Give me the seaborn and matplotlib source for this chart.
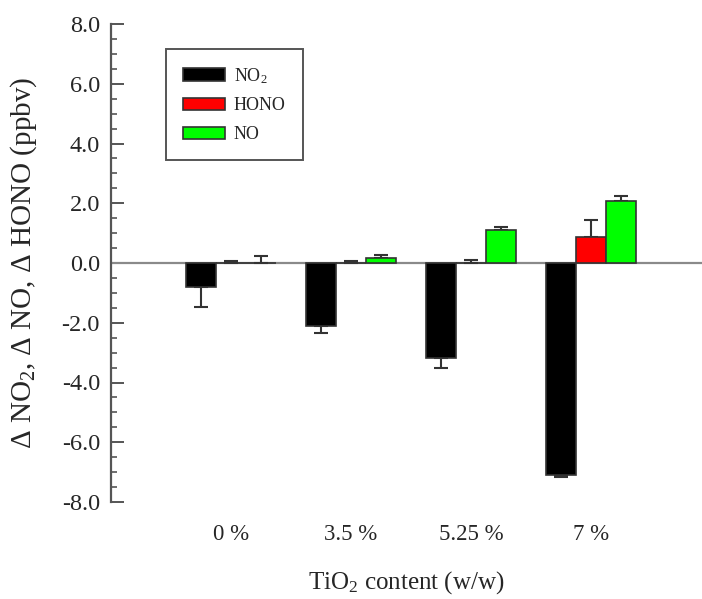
import seaborn as sns
import matplotlib
matplotlib.use("Agg")
import matplotlib.pyplot as plt
from matplotlib.ticker import MultipleLocator, FormatStrFormatter
import pandas as pd
import numpy as np

# Data
contents = ['0 %', '3.5 %', '5.25 %', '7 %']
species = ['NO$_2$', 'HONO', 'NO']
no2 = [-0.80, -2.10, -3.17, -7.10]
hono = [0.0, 0.0, 0.0, 0.87]
no = [0.0, 0.17, 1.10, 2.07]
no2_err = [0.67, 0.23, 0.33, 0.05]
hono_err = [0.07, 0.07, 0.10, 0.56]
no_err = [0.23, 0.10, 0.10, 0.16]
colors = ['#000000', '#ff0000', '#00ff00']

df = pd.DataFrame({
    'content': contents * 3,
    'species': [s for s in species for _ in contents],
    'value': no2 + hono + no,
})
errs = [no2_err, hono_err, no_err]

sns.set_style('ticks')
plt.rcParams['font.family'] = ['Liberation Serif', 'DejaVu Serif']
plt.rcParams['mathtext.fontset'] = 'custom'
plt.rcParams['mathtext.rm'] = 'Liberation Serif'
plt.rcParams['mathtext.default'] = 'regular'
plt.rcParams['axes.unicode_minus'] = False

fig = plt.figure(figsize=(7.02, 5.99), dpi=100)
ax = fig.add_axes([111 / 702, 1 - 502 / 599, 1 - 111 / 702, (502 - 24) / 599])

sns.barplot(data=df, x='content', y='value', hue='species', order=contents,
            hue_order=species, palette=colors, width=0.75, errorbar=None,
            edgecolor='#333333', linewidth=1.2, saturation=1, ax=ax, zorder=3)

# one-sided error bars
for cont, err, vals in zip(ax.containers, errs, [no2, hono, no]):
    for bar, e, v in zip(cont, err, vals):
        xc = bar.get_x() + bar.get_width() / 2
        yerr = [[e], [0]] if v < 0 else [[0], [e]]
        ax.errorbar(xc, v, yerr=yerr, fmt='none', ecolor='#333333',
                    elinewidth=1.5, capsize=5, capthick=1.5, zorder=2)

ax.axhline(0, color='#8a8a8a', lw=1.6, zorder=1)

ax.set_ylim(-8, 8)
ax.set_xlim(-1.0, 3.925)
ax.yaxis.set_major_locator(MultipleLocator(2))
ax.yaxis.set_minor_locator(MultipleLocator(0.5))
ax.yaxis.set_major_formatter(FormatStrFormatter('%.1f'))

for side in ['top', 'right', 'bottom']:
    ax.spines[side].set_visible(False)
ax.spines['left'].set_color('#555555')
ax.spines['left'].set_linewidth(1.6)
ax.tick_params(axis='y', which='major', direction='in', length=9.5, width=1.4,
               color='#555555', pad=8, labelsize=17.5)
ax.tick_params(axis='y', which='minor', direction='in', length=4.5, width=1.2,
               color='#555555')
ax.tick_params(axis='x', length=0, pad=16, labelsize=16.5)

ax.set_ylabel('\u0394 NO$_2$, \u0394 NO, \u0394 HONO (ppbv)', fontsize=21, labelpad=16)
ax.set_xlabel('TiO$_2$ content (w/w)', fontsize=18, labelpad=17)

handles, labels = ax.get_legend_handles_labels()
leg = ax.legend(handles, labels, loc='upper left', bbox_to_anchor=(0.093, 0.948),
                borderaxespad=0, fontsize=13, handlelength=2.3, handleheight=0.7,
                labelspacing=0.65, borderpad=0.95, handletextpad=0.5,
                fancybox=False, framealpha=1)
leg.get_frame().set_edgecolor('#555555')
leg.get_frame().set_linewidth(1.4)

fig.savefig('out.png', dpi=100)
